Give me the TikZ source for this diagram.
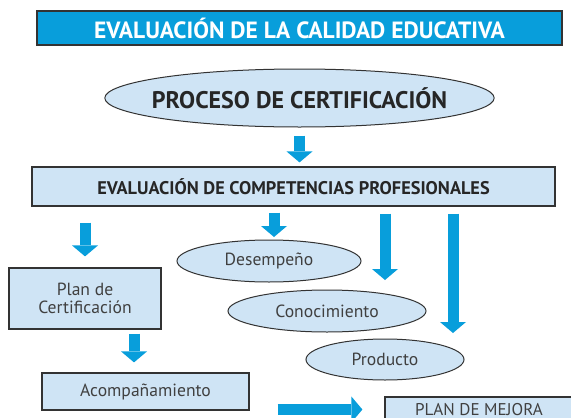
\documentclass[tikz,border=0pt]{standalone}
\usepackage{fontspec}
\setmainfont{PT Sans}
\usetikzlibrary{shapes.geometric,arrows.meta,positioning}
\definecolor{azul}{RGB}{8,158,219}
\definecolor{celeste}{RGB}{207,228,245}
\definecolor{borde}{RGB}{51,51,51}
\definecolor{texto}{RGB}{64,64,64}
\tikzset{
  caja/.style={draw=borde, line width=1.2pt, fill=celeste, inner sep=0pt, text=texto,
    font=\fontsize{17.6}{18}\selectfont},
  elipse/.style={ellipse, draw=borde, line width=1pt, fill=celeste, inner sep=0pt, text=texto,
    font=\fontsize{17.6}{18}\selectfont},
  flecha/.style={draw=azul, line width=11pt, -{Triangle[width=26pt,length=11pt,line width=0pt]}},
}
\begin{document}
\begin{tikzpicture}[x=1pt,y=-1pt]
\useasboundingbox (0,0) rectangle (571,418);
\clip (0,0) rectangle (571,418);
% cajas y elipses
\node[caja, fill=azul, minimum width=525pt, minimum height=34pt, text=white,
  font=\fontsize{23.5}{25}\selectfont\bfseries] (titulo) at (299.5,28) {EVALUACIÓN DE LA CALIDAD EDUCATIVA};
\node[elipse, inner xsep=-10pt, minimum width=387pt, minimum height=58pt, text=black!85,
  font=\fontsize{24}{26}\selectfont\bfseries] (proceso) at (299.5,98) {PROCESO DE CERTIFICACIÓN};
\node[caja, minimum width=523pt, minimum height=39pt, text=black!85,
  font=\fontsize{18.3}{20}\selectfont\bfseries] (competencias) at (293.5,186.5) {EVALUACIÓN DE COMPETENCIAS PROFESIONALES};
\node[caja, minimum width=152pt, minimum height=61pt, align=center] (plan) at (85,298.5) {Plan de\\Certificación};
\node[caja, minimum width=207pt, minimum height=37pt] (acomp) at (145.5,391.5) {Acompañamiento};
\node[elipse, minimum width=184pt, minimum height=42pt] (desempeno) at (269,261) {Desempeño};
\node[elipse, minimum width=198pt, minimum height=42pt] (conocimiento) at (327,311) {Conocimiento};
\node[elipse, minimum width=158pt, minimum height=41pt] (producto) at (385,359.5) {Producto};
\node[caja, minimum width=188pt, minimum height=26pt, font=\fontsize{17}{19}\selectfont] (mejora) at (479,410) {PLAN DE MEJORA};
% flechas
\coordinate (d) at (274,237);
\coordinate (c) at (385,280);
\coordinate (p) at (453,333);
\coordinate (h) at (0,409.5);
\draw[flecha, shorten <=8pt, shorten >=4pt] (proceso.south) -- (proceso.south |- competencias.north);
\draw[flecha, shorten <=16pt, shorten >=11pt] (competencias.south -| plan.north) -- (plan.north);
\draw[flecha, shorten <=6pt] (competencias.south -| d) -- (d);
\draw[flecha, shorten <=7pt] (competencias.south -| c) -- (c);
\draw[flecha, shorten <=7pt] (competencias.south -| p) -- (p);
\draw[flecha, shorten <=4pt, shorten >=10pt] (plan.south -| 134,0) -- (acomp.north -| 134,0);
\draw[flecha, shorten <=28pt, shorten >=22pt] (acomp.east |- h) -- (mejora.west |- h);
\end{tikzpicture}
\end{document}
